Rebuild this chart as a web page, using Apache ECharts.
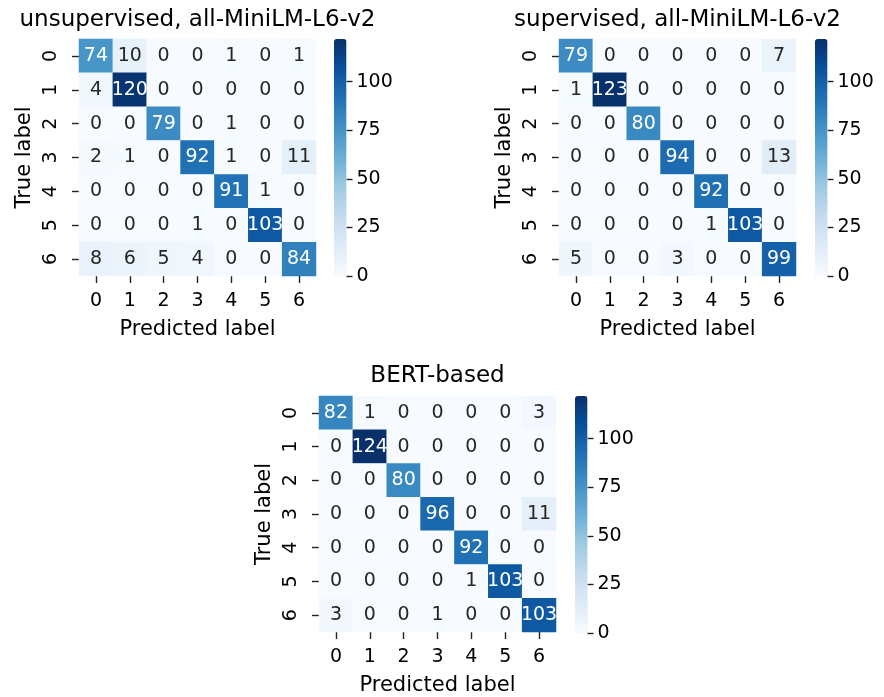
<!DOCTYPE html>
<html><head><meta charset="utf-8">
<script src="https://cdn.jsdelivr.net/npm/echarts@6/dist/echarts.min.js"></script>
<style>html,body{margin:0;padding:0;background:#fff}#c{width:884px;height:697px}</style>
</head><body><div id="c"></div>
<script>
const classLabels = ['0','1','2','3','4','5','6'];
const titles = ['unsupervised, all-MiniLM-L6-v2', 'supervised, all-MiniLM-L6-v2', 'BERT-based'];
const unsupervisedMatrix = [
  [74, 10, 0, 0, 1, 0, 1],
  [4, 120, 0, 0, 0, 0, 0],
  [0, 0, 79, 0, 1, 0, 0],
  [2, 1, 0, 92, 1, 0, 11],
  [0, 0, 0, 0, 91, 1, 0],
  [0, 0, 0, 1, 0, 103, 0],
  [8, 6, 5, 4, 0, 0, 84]
];
const supervisedMatrix = [
  [79, 0, 0, 0, 0, 0, 7],
  [1, 123, 0, 0, 0, 0, 0],
  [0, 0, 80, 0, 0, 0, 0],
  [0, 0, 0, 94, 0, 0, 13],
  [0, 0, 0, 0, 92, 0, 0],
  [0, 0, 0, 0, 1, 103, 0],
  [5, 0, 0, 3, 0, 0, 99]
];
const bertMatrix = [
  [82, 1, 0, 0, 0, 0, 3],
  [0, 124, 0, 0, 0, 0, 0],
  [0, 0, 80, 0, 0, 0, 0],
  [0, 0, 0, 96, 0, 0, 11],
  [0, 0, 0, 0, 92, 0, 0],
  [0, 0, 0, 0, 1, 103, 0],
  [3, 0, 0, 1, 0, 0, 103]
];
const colorbarTicks = [0, 25, 50, 75, 100];
const colorMin = 0;
const colorMax = 122;

const matrices = [unsupervisedMatrix, supervisedMatrix, bertMatrix];
const blues = ['#f7fbff','#deebf7','#c6dbef','#9ecae1','#6baed6','#4292c6','#2171b5','#08519c','#08306b'];
const FONT = 'DejaVu Sans';
const panels = [
  {left: 79, top: 39, cbLeft: 334, titleTop: 9},
  {left: 559, top: 39, cbLeft: 815, titleTop: 9},
  {left: 319, top: 396, cbLeft: 575, titleTop: 365}
];
const W = 237, H = 237, CBW = 12.5;

const grids = [], xAxes = [], yAxes = [], series = [], visualMaps = [], titleOpts = [];
panels.forEach((p, i) => {
  grids.push({left: p.left, top: p.top, width: W, height: H, containLabel: false});
  titleOpts.push({
    text: titles[i], left: p.left + W / 2, top: p.titleTop, textAlign: 'center', padding: 0,
    textStyle: {fontFamily: FONT, fontSize: 23, fontWeight: 'normal', color: '#000'}
  });
  xAxes.push({
    gridIndex: i, type: 'category', data: classLabels, position: 'bottom',
    axisLine: {show: false},
    axisTick: {show: true, alignWithLabel: true, length: 7, lineStyle: {color: '#222', width: 1.4}},
    axisLabel: {fontFamily: FONT, fontSize: 19, color: '#000', margin: 16},
    splitLine: {show: false}, splitArea: {show: false},
    name: 'Predicted label', nameLocation: 'middle', nameGap: 43,
    nameTextStyle: {fontFamily: FONT, fontSize: 21, color: '#000'}
  });
  yAxes.push({
    gridIndex: i, type: 'category', data: classLabels, inverse: true,
    axisLine: {show: false},
    axisTick: {show: true, alignWithLabel: true, length: 7, lineStyle: {color: '#222', width: 1.4}},
    axisLabel: {fontFamily: FONT, fontSize: 19, color: '#000', margin: 18, rotate: 90},
    splitLine: {show: false}, splitArea: {show: false},
    name: 'True label', nameLocation: 'middle', nameGap: 44, nameRotate: 90,
    nameTextStyle: {fontFamily: FONT, fontSize: 21, color: '#000'}
  });
  const data = [];
  matrices[i].forEach((row, r) => row.forEach((v, c) => {
    data.push({value: [c, r, v], label: {color: v > colorMax * 0.45 ? '#ffffff' : '#262626'}});
  }));
  series.push({
    type: 'heatmap', xAxisIndex: i, yAxisIndex: i, data: data,
    label: {show: true, fontFamily: FONT, fontSize: 19},
    itemStyle: {borderWidth: 0},
    emphasis: {disabled: true}, animation: false
  });
  visualMaps.push({
    type: 'continuous', seriesIndex: i, dimension: 2, min: colorMin, max: colorMax,
    calculable: false, hoverLink: false, realtime: false,
    left: p.cbLeft, top: p.top, itemWidth: CBW, itemHeight: H, padding: 0,
    inRange: {color: blues}, text: null, showLabel: false
  });
});
panels.forEach((p, i) => {
  grids.push({left: p.cbLeft, top: p.top, width: CBW, height: H, containLabel: false});
  xAxes.push({gridIndex: 3 + i, type: 'value', show: false, min: 0, max: 1});
  yAxes.push({
    gridIndex: 3 + i, type: 'value', position: 'right', min: colorMin, max: colorMax,
    axisLine: {show: false, onZero: false},
    axisTick: {show: true, length: 6, customValues: colorbarTicks, lineStyle: {color: '#222', width: 1.4}},
    axisLabel: {show: true, customValues: colorbarTicks, fontFamily: FONT, fontSize: 19, color: '#000', margin: 10},
    splitLine: {show: false}
  });
});

const chart = echarts.init(document.getElementById('c'), null, {renderer: 'canvas'});
chart.setOption({
  animation: false,
  backgroundColor: '#ffffff',
  title: titleOpts,
  grid: grids,
  xAxis: xAxes,
  yAxis: yAxes,
  visualMap: visualMaps,
  series: series
});
</script>
</body></html>
